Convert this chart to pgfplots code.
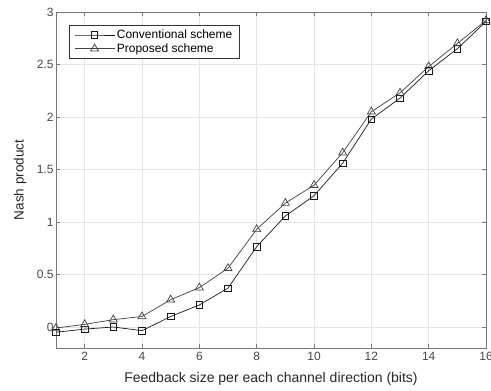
\documentclass[border=0pt]{standalone}
\usepackage{fontspec}
\setmainfont{Liberation Sans}
\usepackage{pgfplots}
\pgfplotsset{compat=1.18}
\definecolor{axgray}{RGB}{120,120,120}
\definecolor{tickgray}{RGB}{70,70,70}
\definecolor{gridgray}{RGB}{228,228,228}
\begin{document}
\begin{tikzpicture}
\begin{axis}[
  name=ax,
  scale only axis,
  width=430pt, height=336pt,
  xmin=1, xmax=16, ymin=-0.2, ymax=3,
  xtick={2,4,...,16},
  ytick={0,0.5,...,3},
  yticklabels={0,0.5,1,1.5,2,2.5,3},
  grid=major,
  major grid style={gridgray, line width=0.6pt},
  axis line style={axgray, line width=0.8pt},
  tick style={axgray, line width=0.7pt},
  tick align=inside,
  major tick length=4pt,
  ticklabel style={font=\fontsize{12}{14}\selectfont, text=tickgray},
  xticklabel style={yshift=-1pt},
  yticklabel style={xshift=1pt},
  /pgf/number format/assume math mode=true,
  xlabel={Feedback size per each channel direction (bits)},
  ylabel={Nash product},
  xlabel style={font=\fontsize{14}{16}\selectfont, text=black!85, at={(axis description cs:0.5,-0.092)}, anchor=center},
  ylabel style={font=\fontsize{13.5}{16}\selectfont, text=black!85, at={(axis description cs:-0.0837,0.5)}, anchor=center},
  legend style={at={(0.03,0.961)}, anchor=north west, draw=black!80, fill=white,
    font=\fontsize{12}{14}\selectfont, inner xsep=5pt, inner ysep=2.5pt, row sep=-0.5pt, line width=0.6pt,
    nodes={inner xsep=2pt}},
  legend cell align=left,
  legend image code/.code={\draw[mark repeat=2,mark phase=2,#1] plot coordinates {(0pt,0pt) (20pt,0pt) (40pt,0pt)};},
]
\addplot[black!90, line width=0.7pt, mark=square, mark size=3.2pt, mark options={solid}] coordinates {
(1,-0.05) (2,-0.02) (3,0.0) (4,-0.035) (5,0.10) (6,0.21) (7,0.37) (8,0.765) (9,1.057) (10,1.25) (11,1.56) (12,1.98) (13,2.18) (14,2.44) (15,2.65) (16,2.91)
};
\addlegendentry{Conventional scheme}
\addplot[black!75, line width=0.7pt, mark=triangle, mark size=4.6pt, mark options={solid}] coordinates {
(1,-0.01) (2,0.025) (3,0.07) (4,0.10) (5,0.26) (6,0.375) (7,0.56) (8,0.93) (9,1.18) (10,1.35) (11,1.66) (12,2.05) (13,2.23) (14,2.48) (15,2.70) (16,2.92)
};
\addlegendentry{Proposed scheme}
\end{axis}
\pgfresetboundingbox
\path ([shift={(-56pt,-42pt)}]ax.south west) rectangle ([shift={(5pt,12pt)}]ax.north east);
\end{tikzpicture}
\end{document}
